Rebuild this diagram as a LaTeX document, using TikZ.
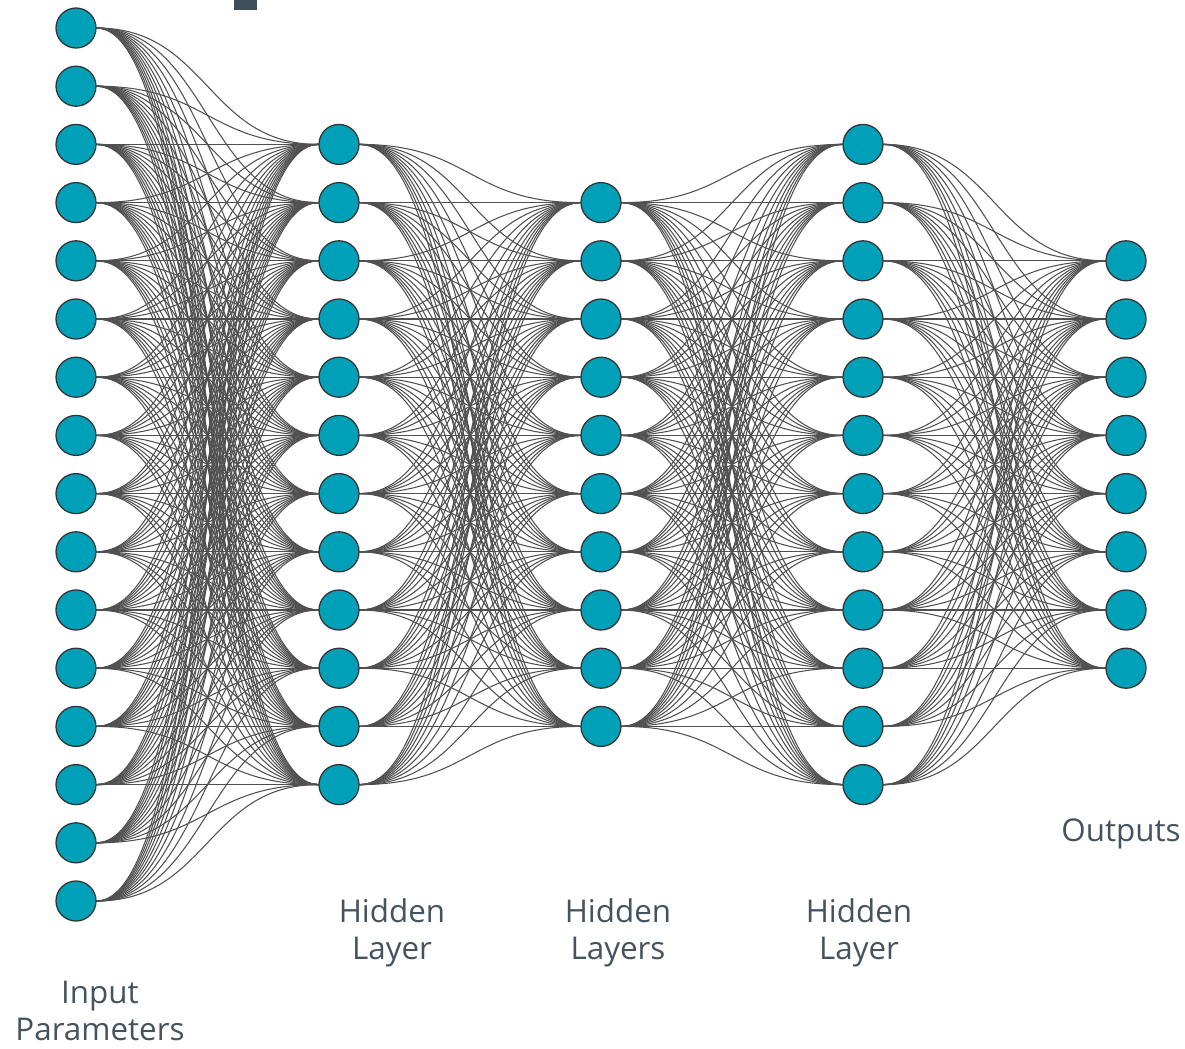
\documentclass[tikz,border=0pt]{standalone}
\usepackage{fontspec}
\setmainfont{Open Sans}
\usepackage{tikz}
\usetikzlibrary{backgrounds}
\definecolor{neuronfill}{HTML}{00A0B9}
\definecolor{neurondraw}{HTML}{333333}
\definecolor{linkgray}{HTML}{505050}
\definecolor{labelgray}{HTML}{44535E}
\definecolor{bargray}{HTML}{3E4F5B}
\tikzset{
    neuron/.style={circle, draw=neurondraw, line width=0.9pt, fill=neuronfill, minimum size=1cm, inner sep=0},
    link/.style={draw=linkgray, line width=0.75pt},
    lbl/.style={font=\fontsize{22.3}{26.3}\selectfont, text=labelgray, align=center, inner sep=0, anchor=base},
}

\begin{document}
\begin{tikzpicture}[x=0.025cm, y=-0.025cm]
    \useasboundingbox (0,0) rectangle (1185,1048);
    \fill[bargray] (234,0) rectangle (257,9.5);

    % neurons, layer by layer
    \foreach \l/\x/\n in {1/76/16, 2/339/12, 3/601/10, 4/863/12, 5/1126/8}
        \foreach \i in {1,...,\n}
            \node[neuron] (n\l-\i) at (\x, {464.5+(\i-(\n+1)/2)*58.2}) {};

    % full connections between neighbouring layers
    \begin{scope}[on background layer]
        \foreach \a/\b/\p/\q in {1/2/16/12, 2/3/12/10, 3/4/10/12, 4/5/12/8}
            \foreach \i in {1,...,\p}
                \foreach \j in {1,...,\q}
                    \draw[link] (n\a-\i.east) .. controls +(111,0) and +(-111,0) .. (n\b-\j.west);
    \end{scope}

    % baseline of the last line
    \node[lbl] (inlbl) at (100,1040) {Input\\Parameters};
    \node[lbl] (h1lbl) at (392,959) {Hidden\\Layer};
    \node[lbl] (h2lbl) at (618,959) {Hidden\\Layers};
    \node[lbl] (h3lbl) at (859,959) {Hidden\\Layer};
    \node[lbl] (outlbl) at (1121,841) {Outputs};
\end{tikzpicture}
\end{document}
